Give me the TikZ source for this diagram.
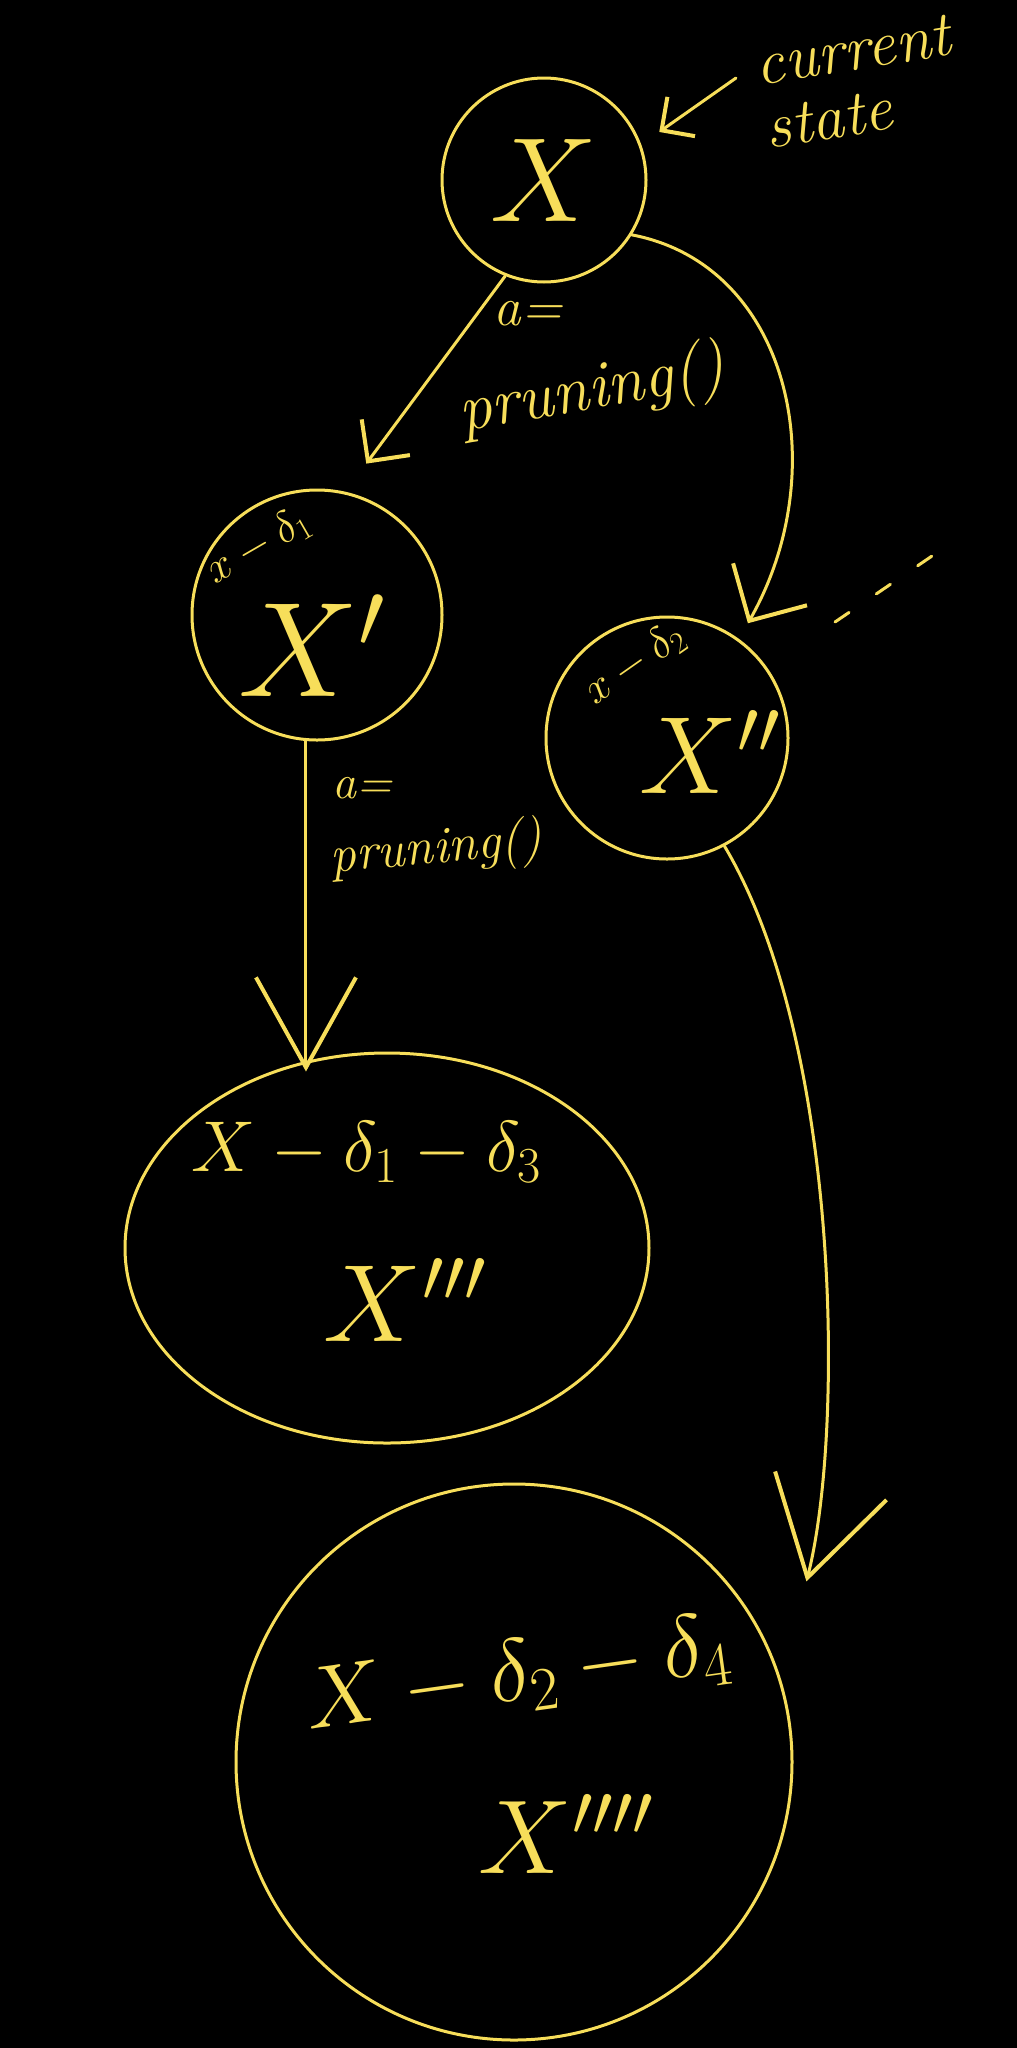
\RequirePackage{fix-cm}
\documentclass[tikz,border=0pt]{standalone}
\usetikzlibrary{arrows.meta,shapes.geometric}
\definecolor{hl}{RGB}{247,222,90}
\newcommand{\hsz}[1]{\fontsize{#1}{#1}\selectfont}
\begin{document}
\begin{tikzpicture}[x=1pt,y=-1pt,
  stnode/.style={draw=hl, line width=3pt, circle, inner sep=0pt},
  hand/.style={draw=hl, line width=3pt, line cap=round},
  hwt/.style={text=hl, inner sep=0pt},
  tipsmall/.style={-{Straight Barb[length=24pt,width=48pt,line width=4pt]}},
  tipmid/.style={-{Straight Barb[length=30pt,width=60pt,line width=4pt]}},
  tipbig/.style={-{Straight Barb[length=42pt,width=85pt,line width=4pt]}},
  tipvbig/.style={-{Straight Barb[length=90pt,width=100pt,line width=4pt]}},
  tiphuge/.style={-{Straight Barb[length=95pt,width=115pt,line width=4pt]}},
]
\useasboundingbox (0,0) rectangle (1017,2048);
\fill[black] (0,0) rectangle (1017,2048);

% states
\node[stnode, minimum size=204pt] (x0) at (544,180) {};
\node[stnode, minimum size=250pt] (x1) at (317,615) {};
\node[stnode, minimum size=242pt] (x2) at (667,738) {};
\node[stnode, ellipse, minimum width=524pt, minimum height=390pt] (x3) at (387,1248) {};
\node[stnode, minimum size=556pt] (x4) at (514,1762) {};

% texts in states
\node[hwt, font=\hsz{120}] (t0) at (544,180) {$X$};
\node[hwt, font=\hsz{44}, rotate=30] (t1a) at (258,546) {$x-\delta_1$};
\node[hwt, font=\hsz{135}] (t1) at (312,646) {$X'$};
\node[hwt, font=\hsz{44}, rotate=35] (t2a) at (634,664) {$x-\delta_2$};
\node[hwt, font=\hsz{110}] (t2) at (710,752) {$X''$};
\node[hwt, font=\hsz{72}] (t3a) at (366,1152) {$X-\delta_1-\delta_3$};
\node[hwt, font=\hsz{110}] (t3) at (405,1300) {$X'''$};
\node[hwt, font=\hsz{88}, rotate=8] (t4a) at (518,1676) {$X-\delta_2-\delta_4$};
\node[hwt, font=\hsz{105}] (t4) at (566,1834) {$X''''$};

% annotations
\node[hwt, font=\hsz{64}\itshape, rotate=9, align=left] (cs) at (858,82) {current\\state};
\node[hwt, font=\hsz{55}\itshape] (l1a) at (528,314) {a=};
\node[hwt, font=\hsz{66}\itshape, rotate=10] (l1b) at (592,392) {pruning()};
\node[hwt, font=\hsz{48}\itshape] (l2a) at (362,788) {a=};
\node[hwt, font=\hsz{52}\itshape, rotate=5] (l2b) at (436,850) {pruning()};

% connectors
\coordinate (cstail) at (736,78);
\draw[hand, tipsmall, shorten >=22pt] (cstail) -- (x0.20);
\draw[hand, tipmid, shorten >=35pt] (x0.248) -- (x1.77);
\draw[hand, tipbig, shorten >=18pt] (x0.328) .. controls (790,265) and (835,470) .. (x2.54);
\draw[hand, tipvbig, shorten >=-20pt] (x1.265) -- (x1.265 |- x3.north);
\draw[hand, tiphuge, shorten >=102pt] (x2.298) .. controls (840,1040) and (845,1430) .. (x4.17);

% handwritten ellipsis
\coordinate (dA) at (835,622);
\coordinate (dB) at (932,556);
\draw[hand, dash pattern=on 17pt off 33pt] (dA) -- (dB);
\end{tikzpicture}
\end{document}
